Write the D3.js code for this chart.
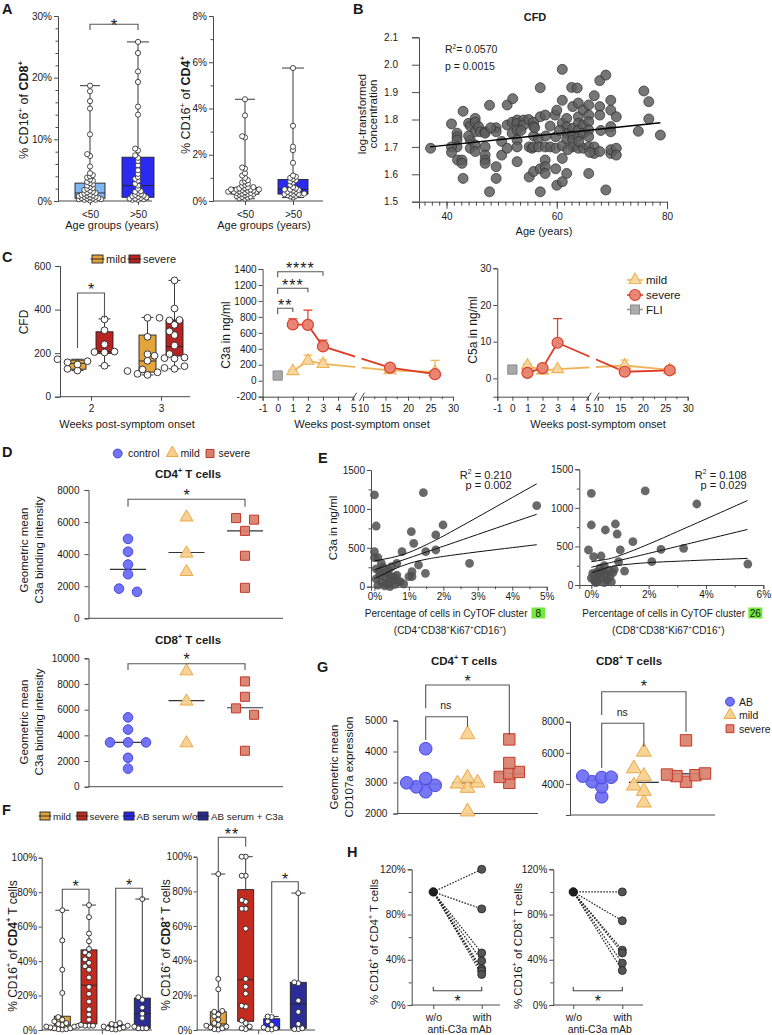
<!DOCTYPE html>
<html><head><meta charset="utf-8">
<script src="https://d3js.org/d3.v7.min.js"></script>
<style>html,body{margin:0;padding:0;background:#fff}svg{display:block}</style>
</head><body>
<svg id="fig" width="772" height="1035" xmlns="http://www.w3.org/2000/svg"></svg>
<script>
// ======================= DATA =======================
// Panel A
const aAgeGroups = ["<50", ">50"];
const aCD8Lt50 = [18.7,17.8,16.2,15.0,10.8,7.6,7.3,5.6,4.5,4.2,4.0,3.8,3.5,3.3,3.1,2.9,2.7,2.5,2.3,2.1,2.0,1.8,1.7,1.5,1.4,1.3,1.2,1.1,1.0,0.9,0.9,0.8,0.7,0.7,0.6,0.5,0.5,0.4,0.4,0.3,0.3,0.2,0.2,0.1];
const aCD8Gt50 = [25.8,24.0,21.0,19.3,15.3,14.0,8.5,8.2,7.4,7.0,6.5,5.8,5.0,4.4,3.9,3.6,3.3,2.8,2.5,2.0,1.6,1.5,1.3,1.1,1.0,0.9,0.8,0.7,0.6,0.5,0.4,0.4,0.3,0.2,0.2];
const aCD8Stats = [[0.1,0.45,1.3,2.9,18.7],[0.2,0.6,2.5,7.1,25.8]]; // min,q1,median,q3,max
const aCD4Lt50 = [4.4,3.7,2.8,2.75,1.45,1.4,1.2,1.1,1.0,0.9,0.85,0.8,0.75,0.7,0.65,0.6,0.6,0.55,0.55,0.5,0.5,0.5,0.5,0.48,0.45,0.45,0.42,0.4,0.4,0.4,0.38,0.35,0.35,0.32,0.3,0.3,0.28,0.25,0.22,0.2,0.18,0.15,0.12,0.1];
const aCD4Gt50 = [5.75,3.25,2.35,2.2,1.65,1.1,1.05,1.0,0.95,0.9,0.85,0.8,0.7,0.6,0.55,0.5,0.5,0.48,0.45,0.4,0.4,0.35,0.32,0.3,0.3,0.28,0.25,0.22,0.2,0.15];
const aCD4Stats = [[0.1,0.3,0.45,0.58,4.4],[0.15,0.3,0.5,0.93,5.75]];

// Panel B  [age, log CFD]
const bPoints = [[37.1,1.695],[40.9,1.784],[43.0,1.830],[41.9,1.750],[41.9,1.737],[41.9,1.725],[41.9,1.700],[40.9,1.700],[40.9,1.680],[42.0,1.652],
[42.8,1.652],[42.8,1.640],[43.0,1.585],[44.0,1.786],[44.3,1.776],[45.2,1.804],[45.2,1.790],[45.2,1.755],[44.3,1.725],[44.3,1.695],
[45.2,1.707],[45.2,1.683],[45.8,1.774],[46.1,1.755],[47.0,1.755],[47.0,1.750],[47.0,1.700],[47.0,1.670],[47.0,1.652],[47.0,1.640],
[47.8,1.852],[47.8,1.536],[49.0,1.770],[49.0,1.755],[49.0,1.628],[49.0,1.585],[50.0,1.720],[50.0,1.670],[51.0,1.853],[51.0,1.695],
[52.0,1.876],[51.0,1.780],[51.9,1.790],[52.8,1.798],[52.8,1.786],[51.9,1.750],[52.8,1.762],[52.8,1.725],[52.8,1.700],[52.8,1.646],
[54.0,1.798],[54.0,1.780],[54.9,1.800],[55.8,1.790],[55.8,1.774],[55.0,1.700],[55.5,1.695],[55.0,1.590],[55.8,1.740],[55.8,1.700],
[55.8,1.610],[56.7,1.730],[56.7,1.700],[57.0,1.620],[57.0,1.916],[57.0,1.810],[57.0,1.536],[57.9,1.816],[57.9,1.700],[57.9,1.652],
[57.9,1.628],[57.9,1.603],[58.8,1.776],[58.8,1.700],[59.7,1.816],[60.0,1.834],[59.8,1.737],[59.8,1.695],[59.8,1.620],[60.0,1.560],
[61.0,1.983],[61.0,1.870],[61.0,1.786],[61.0,1.704],[61.0,1.658],[61.0,1.573],[61.8,1.804],[61.8,1.774],[61.8,1.750],[61.8,1.730],
[61.8,1.603],[62.7,1.917],[62.9,1.847],[62.9,1.768],[62.9,1.743],[62.9,1.725],[62.9,1.700],[63.7,1.915],[63.9,1.860],[63.9,1.810],
[63.9,1.786],[63.9,1.762],[63.9,1.737],[63.9,1.695],[64.8,1.835],[64.8,1.780],[64.8,1.750],[64.8,1.695],[65.8,1.853],[65.8,1.816],
[65.8,1.792],[65.8,1.762],[65.8,1.737],[65.8,1.700],[65.8,1.603],[66.8,1.887],[66.8,1.700],[66.8,1.676],[67.8,1.847],[67.8,1.816],
[67.8,1.683],[67.8,1.942],[68.9,1.962],[68.9,1.543],[69.8,1.870],[69.8,1.834],[69.8,1.774],[69.8,1.755],[69.8,1.676],[69.8,1.690],
[70.8,1.810],[70.8,1.695],[70.8,1.670],[74.8,1.757],[75.8,1.904],[76.7,1.865],[76.7,1.802],[78.8,1.743],
[44.0,1.740],[48.0,1.770],[53.5,1.760],[56.0,1.770],[58.0,1.740],[60.5,1.760],[62.0,1.690],[64.0,1.720],[66.0,1.680],[68.0,1.760]];
const bFitAge = [37, 78.8];
const bFitCFD = [1.700, 1.788];

// Panel C (left) CFD by week
const cWeekCats = ["2", "3"];
const cCFDMildW2 = [172,163,158,148,128,120];
const cCFDSevW2 = [355,305,240,207,205,203,142];
const cCFDMildW3 = [362,275,195,165,125,118,112,105,100];
const cCFDSevW3 = [534,405,362,352,350,330,300,283,235,196,188,180,177,175,140,132,128];
const cStatsMild = [[120,126,153,168,172],[100,113,164,283,364]];
const cStatsSev = [[142,199,207,298,357],[128,187,230,352,534]];
// Panel C (middle/right) time course
const cWeeks = [1, 2, 3, 16, 26];
const c3aSevere = [705,700,430,165,82];
const c3aSevereUp = [775,885,510,185,100];
const c3aMild = [120,250,210,130,110];
const c3aMildUp = [135,320,260,150,255];
const c3aFLI = 65;
const c5aSevere = [1.5,2.8,9.7,1.8,2.2];
const c5aSevereUp = [1.7,3.2,16.3,2.0,2.4];
const c5aMild = [3.5,2.1,2.5,3.5,2.3];
const c5aMildUp = [4.0,3.3,2.7,5.0,2.5];
const c5aFLI = 2.4;

// Panel D
const dGroups = ["control","mild","severe"];
const dCD4Control = [4950,4150,3350,2750,1650,1850];
const dCD4Mild = [6300,4050,2900];
const dCD4Severe = [6250,6150,5450,3900,1900];
const dCD4Median = [3050,4100,5450];
const dCD8Control = [5400,4450,3450,3450,3450,2250,1400];
const dCD8Mild = [9000,6650,3400];
const dCD8Severe = [8200,7000,6100,5600,2800];
const dCD8Median = [3450,6700,6150];

// Panel E  [% cells in cluster, C3a ng/ml]
const eLeftPoints = [[1.42,1208],[4.71,1041],[1.07,707],[1.99,793],[1.78,665],[1.14,558],[0.80,450],[1.49,450],[1.78,472],[2.76,300],
[1.28,279],[0.65,300],[1.48,172],[1.09,193],[1.09,129],[1.00,129],[0.75,64],[0.85,35],[0.61,120],[0.00,1180],
[0.05,780],[0.00,450],[0.00,373],[0.10,373],[0.41,214],[0.50,257],[0.41,150],[0.56,86],[0.41,43],[0.20,60],
[0.30,120],[0.15,200],[0.25,250],[0.35,180],[0.70,60],[0.60,30],[0.05,100],[0.10,20],[0.30,10],[0.50,130],
[0.20,300],[0.45,0],[0.15,150],[0.65,150],[0.05,230],[0.35,40]];
const eLeftFitX = [0,0.5,1,1.5,2,3,4,4.71];
const eLeftFitMid = [217,293,369,445,520,672,824,931];
const eLeftFitLo = [102,212,298,352,389,448,502,540];
const eLeftFitHi = [332,374,440,538,651,896,1146,1322];
const eRightPoints = [[0,1189],[0,778],[-0.1,454],[1.88,1219],[3.68,1050],[0.49,713],[0.84,791],[0.9,661],[1.45,562],[1.01,454],
[2.43,463],[3.22,476],[2.11,302],[5.46,272],[0.95,302],[1.16,181],[0.08,367],[0.34,376],[0.05,150],[0.1,60],
[0.15,30],[0.2,170],[0.25,120],[0.3,220],[0.35,90],[0.4,180],[0.45,250],[0.5,140],[0.55,60],[0.6,190],
[0.65,110],[0.7,40],[0.75,160],[0.8,200],[0.2,40],[0.45,30],[0.0,90],[0.3,150]];
const eRightFitX = [0,0.5,1,2,3,4,5.45];
const eRightFitMid = [230,275,320,410,500,590,720];
const eRightFitLo = [158,219,257,290,308,324,345];
const eRightFitHi = [302,331,383,530,692,856,1095];

// Panel F
const fGroups = ["mild","severe","AB serum w/o","AB serum + C3a"];
const fCD4Mild = [69.5,52,35,21.5,7.5,6,5,4,3.5,3,2.5,2,2,1.5,1,1,0.5,0.5,0.3];
const fCD4Severe = [72.5,65.5,56,51.5,47,45,43.5,41,39,37,35,30.5,25,21,16.5,12,9,6,3,2.5,2.5,2.5];
const fCD4ABwo = [4,3.5,3,2.5,2,1.5,1,0.8,0.5,0.3];
const fCD4ABC3a = [76,19,17.5,13,9.5,7,2,1,1,1];
const fCD4Stats = [[0.3,0.8,3,8,69.5],[2.5,3.5,26,46.5,72.5],[0.3,0.8,1.8,3,4],[1,1,9.5,18.5,76]];
const fCD8Mild = [90,29.5,23.5,11,10.5,9,8,6,4,3,2.5,2,1.5,1,0.5,0.3];
const fCD8Severe = [100,100,89,89,75,74,70,70,58.5,29.5,25,21,14,13.5,5.5,4,2,1,0.5];
const fCD8ABwo = [7.8,7.5,5,3,1.5,1,0.5,0.3];
const fCD8ABC3a = [79,27.5,27,17,10.5,3.5,1,0.5,0.5];
const fCD8Stats = [[0.3,1,3.5,10.5,90],[0.5,5,29,81,100],[0.3,0.5,1.5,6.5,7.8],[0.5,1,15,27.5,79]];

// Panel G
const gGroups = ["AB","mild","severe"];
const gCD4AB = [4090,3130,2990,2910,2860,2700];
const gCD4Mild = [4550,3150,2990,2960,2820,2060];
const gCD4Severe = [4390,3630,3340,3290,3180,2990];
const gCD4Median = [2950,2990,3290];
const gCD8AB = [4500,4430,4410,4140,3810,3170];
const gCD8Mild = [6060,4990,4500,3880,3540,2790];
const gCD8Severe = [6800,4670,4600,4560,4500,4140];
const gCD8Median = [4240,4100,4650];

// Panel H
const hConditions = ["w/o","with"];
const hCD4With = [120,85,46,39,32,30,27];
const hCD8With = [100,74.5,48.5,46,37,30.5];
const hBaseline = 100;

// ======================= HELPERS =======================
const FONT = '"Liberation Sans", Arial, Helvetica, sans-serif';
const AX = "#4a4a4a";
const TXT = "#1a1a1a";
const svg = d3.select("#fig").attr("font-family", FONT);
svg.append("rect").attr("width",772).attr("height",1035).attr("fill","#fff");

function styleAxis(g, fs){
  g.attr("font-family", FONT);
  g.selectAll(".domain").attr("stroke", AX).attr("stroke-width",1);
  g.selectAll(".tick line").attr("stroke", AX);
  g.selectAll(".tick text").attr("font-size", fs||10).attr("fill", TXT).attr("font-family", FONT);
}
function yAxis(x, scale, ticks, fmt, minor, o={}){
  const g = svg.append("g").attr("transform",`translate(${x},0)`);
  g.call(d3.axisLeft(scale).tickValues(ticks).tickFormat(fmt).tickSizeOuter(0).tickSize(o.ts||4).tickPadding(o.tp||2));
  if (minor){ const m = g.append("g").call(d3.axisLeft(scale).tickValues(minor).tickFormat("").tickSize(o.ms||2.5).tickSizeOuter(0)); m.select(".domain").remove(); }
  styleAxis(g, o.fs||10);
  return g;
}
function xLin(y, scale, ticks, fmt, minor, o={}){
  const g = svg.append("g").attr("transform",`translate(0,${y})`);
  g.call(d3.axisBottom(scale).tickValues(ticks).tickFormat(fmt).tickSizeOuter(0).tickSize(o.ts||4).tickPadding(o.tp||3));
  if (minor){ const m = g.append("g").call(d3.axisBottom(scale).tickValues(minor).tickFormat("").tickSize(o.ms||2.5).tickSizeOuter(0)); m.select(".domain").remove(); }
  styleAxis(g, o.fs||10);
  return g;
}
function xCat(y, x0, x1, scale, o={}){
  svg.append("line").attr("x1",x0).attr("x2",x1).attr("y1",y).attr("y2",y).attr("stroke",AX);
  const g = svg.append("g").attr("transform",`translate(0,${y})`)
    .call(d3.axisBottom(scale).tickSize(o.ts===undefined?4:o.ts).tickPadding(o.tp||3).tickFormat(o.fmt||(d=>d)));
  g.select(".domain").remove();
  styleAxis(g, o.fs||10);
  return g;
}
function rich(x, y, segs, o={}){
  const fs = o.fs||11;
  const t = svg.append("text").attr("x",x).attr("y",y).attr("font-family",FONT).attr("font-size",fs)
    .attr("fill",o.fill||TXT).attr("text-anchor",o.anchor||"start");
  if (o.bold) t.attr("font-weight","bold");
  if (o.ls) t.attr("letter-spacing",o.ls);
  if (o.rotate) t.attr("transform",`rotate(-90,${x},${y})`);
  let shifted = false;
  segs.forEach(s=>{
    if (typeof s === "string") s = {t:s};
    const sp = t.append("tspan").text(s.t);
    if (s.sup){ sp.attr("font-size",fs*0.62).attr("dy",-fs*0.42); shifted = true; }
    else if (shifted){ sp.attr("dy",fs*0.42); shifted = false; }
    if (s.b) sp.attr("font-weight","bold");
  });
  return t;
}
const SUP = {t:"+", sup:true};
function label(t,x,y){ rich(x,y,[t],{fs:14.5,bold:true}); }
function bracket(x0,x1,y,l0,l1,txt,ty,o={}){
  svg.append("path").attr("d",`M${x0},${l0}V${y}H${x1}V${l1}`).attr("fill","none").attr("stroke",o.stroke||"#555").attr("stroke-width",1.1);
  if (txt) rich((x0+x1)/2, ty, [txt], {fs:o.fs||16, anchor:"middle", fill:TXT, ls:o.ls});
}
function box(cx, w, st, y, fill, capW){
  const g = svg.append("g");
  const ln = (x1,y1,x2,y2)=>g.append("line").attr("x1",x1).attr("y1",y1).attr("x2",x2).attr("y2",y2).attr("stroke","#222").attr("stroke-width",0.9);
  ln(cx,y(st[0]),cx,y(st[4]));
  ln(cx-capW/2,y(st[4]),cx+capW/2,y(st[4]));
  ln(cx-capW/2,y(st[0]),cx+capW/2,y(st[0]));
  g.append("rect").attr("x",cx-w/2).attr("y",y(st[3])).attr("width",w).attr("height",y(st[1])-y(st[3]))
    .attr("fill",fill).attr("stroke","#222").attr("stroke-width",0.9);
  ln(cx-w/2,y(st[2]),cx+w/2,y(st[2]));
}
function swarm(vals, y, cx, dist, step){
  const pts = vals.map(v=>({v, y:y(v)})).sort((a,b)=>b.y-a.y);
  const placed = [];
  pts.forEach(p=>{
    for (let k=0;k<200;k++){
      const off = k===0?0:(k%2?-1:1)*Math.ceil(k/2)*step;
      if (placed.every(q=>(q.dx-off)**2+(q.y-p.y)**2 >= dist*dist)){ p.dx = off; break; }
    }
    if (p.dx===undefined) p.dx = 0;
    placed.push(p);
  });
  return pts.map(p=>({x:cx+p.dx, y:p.y, v:p.v}));
}
function spread(vals, y, cx, thr, sp){
  const pts = vals.map(v=>({v, y:y(v)})).sort((a,b)=>a.y-b.y);
  const cl = [];
  pts.forEach(p=>{ const c = cl[cl.length-1]; if (c && p.y - c[c.length-1].y < thr) c.push(p); else cl.push([p]); });
  const out = [];
  cl.forEach(c=>c.forEach((p,i)=>out.push({x:cx+(i-(c.length-1)/2)*sp, y:p.y, v:p.v})));
  return out;
}
function dots(pts, r, o={}){
  svg.append("g").selectAll("circle").data(pts).join("circle")
    .attr("cx",d=>d.x).attr("cy",d=>d.y).attr("r",r)
    .attr("fill",o.fill||"#fff").attr("fill-opacity",o.fo===undefined?1:o.fo)
    .attr("stroke",o.stroke||"#222").attr("stroke-width",o.sw||0.8);
}
function marks(pts, type, size, fill, stroke, sw, fo){
  svg.append("g").selectAll("path").data(pts).join("path")
    .attr("transform",d=>`translate(${d.x},${d.y})`).attr("d",d3.symbol(type,size)())
    .attr("fill",fill).attr("fill-opacity",fo===undefined?1:fo).attr("stroke",stroke).attr("stroke-width",sw||1);
}
function legIcon(x,y,w,h,fill){
  svg.append("rect").attr("x",x).attr("y",y).attr("width",w).attr("height",h).attr("fill",fill).attr("stroke","#222").attr("stroke-width",0.9);
  svg.append("line").attr("x1",x-1.5).attr("x2",x+w+1.5).attr("y1",y+h/2).attr("y2",y+h/2).attr("stroke","#222").attr("stroke-width",0.9);
}

// colours
const LBLUE="#80b6f2", BLUE="#2a2af2", MILDBOX="#e4a43c", SEVBOX="#b82220";
const FMILD="#e2a43a", FSEV="#c42b1f", FABWO="#2626f0", FABC3="#2c2c98";
const CIRC_F="#6c6cf4", CIRC_S="#4747e2", TRI_F="#f7d08e", TRI_S="#eaa94a", SQ_F="#da7f6d", SQ_S="#c43a2b";
const SEV_L="#de3a26", MILD_L="#f1b357", SEV_MF="#e8826f", MILD_MF="#f8d6a0";

// ======================= PANEL A =======================
label("A", 2, 13.5);
{
  const y = d3.scaleLinear([0,30],[201,16]);
  yAxis(58, y, [0,10,20,30], d=>d+"%", d3.range(2,30,2).filter(d=>d%10), {fs:10, tp:2});
  const x = d3.scalePoint(aAgeGroups,[90,138]);
  xCat(201, 58, 152, x, {fs:10, tp:6});
  box(x("<50"), 30, aCD8Stats[0], y, LBLUE, 20);
  box(x(">50"), 32, aCD8Stats[1], y, BLUE, 22);
  dots(swarm(aCD8Lt50, y, x("<50"), 2.9, 2.8), 2.6);
  dots(swarm(aCD8Gt50, y, x(">50"), 2.9, 2.8), 2.6);
  bracket(90,138,24.3,30,30,"*",30.5,{fs:17});
  rich(28,110,["% CD16",SUP," of ",{t:"CD8",b:true},{t:"+",sup:true,b:true}],{fs:12.5,rotate:true,anchor:"middle"});
  rich(112,229,["Age groups (years)"],{fs:11,anchor:"middle"});
}
{
  const y = d3.scaleLinear([0,8],[201,16]);
  yAxis(213, y, [0,2,4,6,8], d=>d+"%", [1,3,5,7], {fs:10, tp:2});
  const x = d3.scalePoint(aAgeGroups,[245,293]);
  xCat(201, 213, 323, x, {fs:10, tp:6});
  box(x("<50"), 28, aCD4Stats[0], y, LBLUE, 20);
  box(x(">50"), 30, aCD4Stats[1], y, BLUE, 22);
  dots(swarm(aCD4Lt50, y, x("<50"), 2.9, 2.8), 2.6);
  dots(swarm(aCD4Gt50, y, x(">50"), 2.9, 2.8), 2.6);
  rich(190,105,["% CD16",SUP," of ",{t:"CD4",b:true},{t:"+",sup:true,b:true}],{fs:12.5,rotate:true,anchor:"middle"});
  rich(264,229,["Age groups (years)"],{fs:11,anchor:"middle"});
}

// ======================= PANEL B =======================
label("B", 353, 13.5);
{
  const x = d3.scaleLinear([35,80],[419,667]);
  const y = d3.scaleLinear([1.5,2.1],[201.7,37.3]);
  yAxis(419, y, d3.range(1.5,2.101,0.1), d3.format(".1f"), null, {fs:10, ts:7, tp:14});
  xLin(201.7, x, [40,60,80], d=>d, d3.range(36,80.01,4/3), {fs:10, ts:7, tp:4, ms:4});
  svg.append("g").selectAll("circle").data(bPoints).join("circle")
    .attr("cx",d=>x(d[0])).attr("cy",d=>y(d[1])).attr("r",5)
    .attr("fill","#5e5e5e").attr("fill-opacity",0.85).attr("stroke","#2e2e2e").attr("stroke-width",0.7);
  svg.append("line").attr("x1",x(bFitAge[0])).attr("y1",y(bFitCFD[0])).attr("x2",x(bFitAge[1])).attr("y2",y(bFitCFD[1]))
    .attr("stroke","#000").attr("stroke-width",1.4);
  rich(535,21,["CFD"],{fs:11,bold:true,anchor:"middle"});
  rich(445,53,["R",{t:"2",sup:true},"= 0.0570"],{fs:10.5});
  rich(445,69.5,["p = 0.0015"],{fs:10.5});
  rich(365.5,114,["log-transformed"],{fs:11.5,rotate:true,anchor:"middle"});
  rich(376.5,114,["concentration"],{fs:11.5,rotate:true,anchor:"middle"});
  rich(544,234.5,["Age (years)"],{fs:11,anchor:"middle"});
}

// ======================= PANEL C =======================
label("C", 2, 261.5);
{
  legIcon(92,255,11,8,MILDBOX); rich(106,263,["mild"],{fs:11});
  legIcon(129,255,11,8,SEVBOX); rich(143,263,["severe"],{fs:11});
  const y = d3.scaleLinear([0,600],[396.7,266]);
  yAxis(60, y, [0,200,400,600], d=>d, null, {fs:10, ts:5, tp:4});
  const x = d3.scalePoint(cWeekCats,[91,161]);
  xCat(396.7, 60, 190, x, {fs:10, tp:4});
  const off = 13.5;
  box(x("2")-off,17,cStatsMild[0],y,MILDBOX,12); box(x("2")+off,17,cStatsSev[0],y,SEVBOX,12);
  box(x("3")-off,17,cStatsMild[1],y,MILDBOX,12); box(x("3")+off,17,cStatsSev[1],y,SEVBOX,12);
  dots(swarm(cCFDMildW2,y,x("2")-off,6,5),3.4,{sw:0.9});
  dots(swarm(cCFDSevW2,y,x("2")+off,6,5),3.4,{sw:0.9});
  dots(swarm(cCFDMildW3,y,x("3")-off,6,5),3.4,{sw:0.9});
  dots(swarm(cCFDSevW3,y,x("3")+off,6,5),3.4,{sw:0.9});
  bracket(x("2")-off,x("2")+off,293,348,318,"*",295);
  rich(28,322,["CFD"],{fs:12,rotate:true,anchor:"middle"});
  rich(127,428,["Weeks post-symptom onset"],{fs:11,anchor:"middle"});
}
function timePanel(o){
  const {y, xa, xb, yb, gap, id, sev, sevUp, mild, mildUp, fli} = o;
  const px = w => w<=5 ? xa(w) : xb(w);
  yAxis(xa.range()[0], y, o.yTicks, d=>d, null, {fs:10, ts:4, tp:2});
  xLin(yb, xa, d3.range(-1,6), d=>d, null, {fs:10, tp:4});
  xLin(yb, xb, [10,15,20,25,30], d=>d, [12.5,17.5,22.5,27.5], {fs:10, tp:4});
  [xa.range()[1]+1, xb.range()[0]-1].forEach(bx=>svg.append("line").attr("x1",bx-2.5).attr("x2",bx+2.5)
    .attr("y1",yb+4).attr("y2",yb-4).attr("stroke",AX));
  const cp = svg.append("clipPath").attr("id",id);
  cp.append("rect").attr("x",0).attr("y",0).attr("width",gap[0]).attr("height",1035);
  cp.append("rect").attr("x",gap[1]).attr("y",0).attr("width",772-gap[1]).attr("height",1035);
  const line = d3.line().x((d,i)=>px(cWeeks[i])).y(d=>y(d));
  svg.append("path").attr("d",line(mild)).attr("fill","none").attr("stroke",MILD_L).attr("stroke-width",1.8).attr("clip-path",`url(#${id})`);
  svg.append("path").attr("d",line(sev)).attr("fill","none").attr("stroke",SEV_L).attr("stroke-width",1.8).attr("clip-path",`url(#${id})`);
  const err = (vals, ups, col)=>vals.forEach((v,i)=>{
    const cx = px(cWeeks[i]);
    svg.append("path").attr("d",`M${cx},${y(v)}V${y(ups[i])}M${cx-4.5},${y(ups[i])}H${cx+4.5}`).attr("fill","none").attr("stroke",col).attr("stroke-width",1.2);
  });
  err(mild, mildUp, MILD_L); err(sev, sevUp, SEV_L);
  marks(mild.map((v,i)=>({x:px(cWeeks[i]),y:y(v)})), d3.symbolTriangle, 62, MILD_MF, "#efb252", 1.1, 0.95);
  marks(sev.map((v,i)=>({x:px(cWeeks[i]),y:y(v)})), d3.symbolCircle, 95, SEV_MF, "#d8402d", 1.2, 0.95);
  marks([{x:px(0),y:y(fli)}], d3.symbolSquare, 85, "#a9a9a9", "#8a8a8a", 1);
  return px;
}
{
  const y = d3.scaleLinear([-200,1400],[396.7,269]);
  const xa = d3.scaleLinear([-1,5],[262.6,353.2]);
  const xb = d3.scaleLinear([10,30],[363,453]);
  const px = timePanel({y, xa, xb, yb:396.7, gap:[355,361.5], id:"gapC3a", sev:c3aSevere, sevUp:c3aSevereUp, mild:c3aMild, mildUp:c3aMildUp, fli:c3aFLI, yTicks:d3.range(-200,1401,200)});
  bracket(px(0),px(1),308.3,314.3,312,"**",310.8,{ls:1});
  bracket(px(0),px(2),288.3,294,292.3,"***",290.8,{ls:1});
  bracket(px(0),px(3),271.7,277.3,275.7,"****",274,{ls:1});
  rich(230,335,["C3a in ng/ml"],{fs:12,rotate:true,anchor:"middle"});
  rich(362,428,["Weeks post-symptom onset"],{fs:11,anchor:"middle"});
}
{
  const y = d3.scaleLinear([-5,30],[396.7,268.3]);
  const xa = d3.scaleLinear([-1,5],[497.3,587.7]);
  const xb = d3.scaleLinear([10,30],[597.7,687.7]);
  timePanel({y, xa, xb, yb:396.7, gap:[589.5,596], id:"gapC5a", sev:c5aSevere, sevUp:c5aSevereUp, mild:c5aMild, mildUp:c5aMildUp, fli:c5aFLI, yTicks:[0,10,20,30]});
  rich(477,330,["C5a in ng/ml"],{fs:12,rotate:true,anchor:"middle"});
  rich(598,428,["Weeks post-symptom onset"],{fs:11,anchor:"middle"});
  // legend
  const lg = [["mild",280,d3.symbolTriangle,62,MILD_MF,"#efb252",MILD_L],["severe",295,d3.symbolCircle,95,SEV_MF,"#d8402d",SEV_L],["FLI",309.5,d3.symbolSquare,80,"#a9a9a9","#8a8a8a","#9a9a9a"]];
  lg.forEach(l=>{
    svg.append("line").attr("x1",627).attr("x2",643).attr("y1",l[1]).attr("y2",l[1]).attr("stroke",l[6]).attr("stroke-width",1.6);
    marks([{x:635,y:l[1]}], l[2], l[3], l[4], l[5], 1.1, 0.95);
    rich(646,l[1]+4,[l[0]],{fs:11.5});
  });
}

// ======================= PANEL D =======================
label("D", 2, 457);
{
  marks([{x:117.7,y:453.5}], d3.symbolCircle, 62, CIRC_F, CIRC_S, 1, 0.95); rich(128,457,["control"],{fs:10.5});
  marks([{x:172.3,y:453}], d3.symbolTriangle, 62, TRI_F, TRI_S, 1); rich(180.5,457,["mild"],{fs:10.5});
  marks([{x:210,y:453.5}], d3.symbolSquare, 64, SQ_F, SQ_S, 1); rich(218.5,457,["severe"],{fs:10.5});
  const x = d3.scalePoint(dGroups,[128,245]);
  const draw = (y, ctrl, mild, sev, med, yb)=>{
    yAxis(88.5, y, y.ticks(4).filter(t=>t%2000===0), d=>d, null, {fs:10, ts:4, tp:5});
    svg.append("line").attr("x1",88.5).attr("x2",283).attr("y1",yb).attr("y2",yb).attr("stroke",AX);
    med.forEach((m,i)=>{ const cx = x(dGroups[i]); svg.append("line").attr("x1",cx-18).attr("x2",cx+18).attr("y1",y(m)).attr("y2",y(m)).attr("stroke","#333").attr("stroke-width",1.1); });
    marks(spread(ctrl,y,x("control"),9.5,18), d3.symbolCircle, 72, CIRC_F, CIRC_S, 1, 0.95);
    marks(spread(mild,y,x("mild"),11,18), d3.symbolTriangle, 72, TRI_F, TRI_S, 1, 0.95);
    marks(spread(sev,y,x("severe"),10,18), d3.symbolSquare, 82, SQ_F, SQ_S, 1, 0.95);
  };
  const y4 = d3.scaleLinear([0,8000],[618.3,490]);
  draw(y4, dCD4Control, dCD4Mild, dCD4Severe, dCD4Median, 618.3);
  bracket(128,245,499.3,506.7,506.7,"*",500.5);
  rich(188,478,["CD4",SUP," T cells"],{fs:11.5,bold:true,anchor:"middle"});
  rich(28,550,["Geometric mean"],{fs:11.5,rotate:true,anchor:"middle"});
  rich(43,550,["C3a binding intensity"],{fs:11.5,rotate:true,anchor:"middle"});
  const y8 = d3.scaleLinear([0,10000],[786.7,658.3]);
  draw(y8, dCD8Control, dCD8Mild, dCD8Severe, dCD8Median, 786.7);
  bracket(128,245,663.7,670,670,"*",665);
  rich(188,644,["CD8",SUP," T cells"],{fs:11.5,bold:true,anchor:"middle"});
  rich(28,722,["Geometric mean"],{fs:11.5,rotate:true,anchor:"middle"});
  rich(43,722,["C3a binding intensity"],{fs:11.5,rotate:true,anchor:"middle"});
}

// ======================= PANEL E =======================
label("E", 318, 463);
function scatterE(o){
  const {x, y, ax, pts, fx, mid, lo, hi} = o;
  yAxis(ax, y, [0,500,1000,1500], d=>d, [250,750,1250], {fs:10, ts:4, tp:2});
  xLin(y.range()[0], x, o.xt, d=>d+"%", o.xm, {fs:10, ts:4, tp:2});
  svg.append("g").selectAll("circle").data(pts).join("circle")
    .attr("cx",d=>x(d[0])).attr("cy",d=>y(d[1])).attr("r",4.4)
    .attr("fill","#4f4f4f").attr("fill-opacity",0.85).attr("stroke","none");
  [mid,lo,hi].forEach(arr=>{
    const l = d3.line().x((d,i)=>x(fx[i])).y(d=>y(d)).curve(d3.curveNatural);
    svg.append("path").attr("d",l(arr)).attr("fill","none").attr("stroke","#111").attr("stroke-width",1);
  });
}
{
  const x = d3.scaleLinear([-0.1,5],[371,546.7]);
  const y = d3.scaleLinear([0,1500],[586.7,470]);
  scatterE({x,y,ax:371,pts:eLeftPoints,fx:eLeftFitX,mid:eLeftFitMid,lo:eLeftFitLo,hi:eLeftFitHi,xt:[0,1,2,3,4,5],xm:[0.5,1.5,2.5,3.5,4.5]});
  rich(511.7,478.5,["R",{t:"2",sup:true}," = 0.210"],{fs:11,anchor:"end"});
  rich(511.7,489,["p = 0.002"],{fs:11,anchor:"end"});
  rich(336.5,528,["C3a in ng/ml"],{fs:11.5,rotate:true,anchor:"middle"});
  rich(527.5,617,["Percentage of cells in CyTOF cluster"],{fs:10,anchor:"end"});
  svg.append("rect").attr("x",531.5).attr("y",607.5).attr("width",13.5).attr("height",11).attr("fill","#72ea3c");
  rich(538.2,616.5,["8"],{fs:10,anchor:"middle"});
  rich(450,633.5,["(CD4",SUP,"CD38",SUP,"Ki67",SUP,"CD16",SUP,")"],{fs:10,anchor:"middle"});
}
{
  const x = d3.scaleLinear([-0.42,6],[579.3,763.3]);
  const y = d3.scaleLinear([0,1500],[585,469.3]);
  scatterE({x,y,ax:579.3,pts:eRightPoints,fx:eRightFitX,mid:eRightFitMid,lo:eRightFitLo,hi:eRightFitHi,xt:[0,2,4,6],xm:[1,3,5]});
  rich(746.7,478.5,["R",{t:"2",sup:true}," = 0.108"],{fs:11,anchor:"end"});
  rich(746.7,489,["p = 0.029"],{fs:11,anchor:"end"});
  rich(745,617,["Percentage of cells in CyTOF cluster"],{fs:10,anchor:"end"});
  svg.append("rect").attr("x",748.3).attr("y",607.5).attr("width",14).attr("height",11).attr("fill","#72ea3c");
  rich(755.3,616.5,["26"],{fs:10,anchor:"middle"});
  rich(668.3,633.5,["(CD8",SUP,"CD38",SUP,"Ki67",SUP,"CD16",SUP,")"],{fs:10,anchor:"middle"});
}

// ======================= PANEL G =======================
label("G", 317, 671.5);
function gChart(o){
  const {y, ax, x1, yb, ab, mild, sev, med, xs} = o;
  const x = d3.scalePoint(gGroups, xs);
  yAxis(ax, y, o.ticks, d=>d, null, {fs:10, ts:4, tp:o.tp||2});
  svg.append("line").attr("x1",ax).attr("x2",x1).attr("y1",yb).attr("y2",yb).attr("stroke",AX).attr("stroke-width",1.2);
  med.forEach((m,i)=>{ const cx = x(gGroups[i]); svg.append("line").attr("x1",cx-15).attr("x2",cx+15).attr("y1",y(m)).attr("y2",y(m)).attr("stroke","#333").attr("stroke-width",1.3); });
  marks(swarm(ab,y,x("AB"),9,9.5), d3.symbolCircle, 125, CIRC_F, CIRC_S, 1, 0.92);
  marks(swarm(mild,y,x("mild"),9,10), d3.symbolTriangle, 95, TRI_F, TRI_S, 1, 0.92);
  marks(swarm(sev,y,x("severe"),9,9.5), d3.symbolSquare, 130, SQ_F, SQ_S, 1, 0.92);
  return x;
}
{
  const y = d3.scaleLinear([2000,5000],[813.5,720.5]);
  const x = gChart({y, ax:397.3, x1:538, yb:813.5, ab:gCD4AB, mild:gCD4Mild, sev:gCD4Severe, med:gCD4Median, xs:[425.7,509.3], ticks:[2000,3000,4000,5000], tp:6});
  bracket(x("AB"),x("severe"),685,708.3,735,"*",686.7);
  bracket(x("AB"),x("mild"),716.7,740,726.7,"",0);
  rich(445.7,709,["ns"],{fs:10.5,anchor:"middle"});
  rich(464,664.5,["CD4",SUP," T cells"],{fs:11.5,bold:true,anchor:"middle"});
  rich(338,767,["Geometric mean"],{fs:11.5,rotate:true,anchor:"middle"});
  rich(353,767,["CD107a expression"],{fs:11.5,rotate:true,anchor:"middle"});
}
{
  const y = d3.scaleLinear([2000,8000],[815,721.7]);
  const x = gChart({y, ax:570, x1:715, yb:815, ab:gCD8AB, mild:gCD8Mild, sev:gCD8Severe, med:gCD8Median, xs:[601.7,686], ticks:[4000,6000,8000]});
  bracket(x("AB"),x("severe"),691.7,715,731.7,"*",692.3);
  bracket(x("AB"),x("mild"),723.3,768,746.7,"",0);
  rich(622.3,716,["ns"],{fs:10.5,anchor:"middle"});
  rich(629,664.5,["CD8",SUP," T cells"],{fs:11.5,bold:true,anchor:"middle"});
  marks([{x:730,y:701.7}], d3.symbolCircle, 62, CIRC_F, CIRC_S, 1, 0.95); rich(739,705.5,["AB"],{fs:10.5});
  marks([{x:730,y:715}], d3.symbolTriangle, 62, TRI_F, TRI_S, 1, 0.95); rich(739,719,["mild"],{fs:10.5});
  marks([{x:730,y:728.7}], d3.symbolSquare, 62, SQ_F, SQ_S, 1, 0.95); rich(739,732.5,["severe"],{fs:10.5});
}

// ======================= PANEL F =======================
label("F", 2, 815);
{
  legIcon(40,812,10,8,FMILD); rich(53,820,["mild"],{fs:9.8});
  legIcon(77,812,10,8,FSEV); rich(89.5,820,["severe"],{fs:9.8});
  legIcon(124,812,10,8,FABWO); rich(136.5,820,["AB serum w/o"],{fs:9.8});
  legIcon(198,812,10,8,FABC3); rich(211,820,["AB serum + C3a"],{fs:9.8});
  const fills = [FMILD,FSEV,FABWO,FABC3];
  const drawF = (ax, xs, x1, stats, sets, y)=>{
    yAxis(ax, y, [0,20,40,60,80,100], d=>d+"%", null, {fs:10, ts:3, tp:1.5});
    svg.append("line").attr("x1",ax).attr("x2",x1).attr("y1",1030).attr("y2",1030).attr("stroke",AX);
    svg.append("line").attr("x1",(xs[1]+xs[2])/2).attr("x2",(xs[1]+xs[2])/2).attr("y1",1030).attr("y2",1034).attr("stroke",AX);
    stats.forEach((st,i)=>box(xs[i],16,st,y,fills[i],14));
    sets.forEach((s,i)=>dots(swarm(s,y,xs[i],4.0,4.0),2.5,{sw:0.9}));
  };
  const y1 = d3.scaleLinear([0,100],[1030,857.7]);
  const xs1 = [62.3,89,115.7,142.3];
  drawF(41.7, xs1, 152, fCD4Stats, [fCD4Mild,fCD4Severe,fCD4ABwo,fCD4ABC3a], y1);
  bracket(xs1[0],xs1[1],889.3,908.3,903.3,"*",892.4);
  bracket(xs1[2],xs1[3],888.3,1021.7,898.3,"*",891.4);
  rich(16.5,946,["% CD16",SUP," of ",{t:"CD4",b:true},{t:"+",sup:true,b:true}," T cells"],{fs:12,rotate:true,anchor:"middle"});
  const y2 = d3.scaleLinear([0,100],[1030,856.7]);
  const xs2 = [218.3,245.7,271.7,298.3];
  drawF(196.7, xs2, 315, fCD8Stats, [fCD8Mild,fCD8Severe,fCD8ABwo,fCD8ABC3a], y2);
  bracket(xs2[0],xs2[1],837.3,871.7,846.7,"**",840,{ls:1});
  bracket(xs2[2],xs2[3],881.7,1013,890,"*",884.5);
  rich(170,945,["% CD16",SUP," of ",{t:"CD8",b:true},{t:"+",sup:true,b:true}," T cells"],{fs:12,rotate:true,anchor:"middle"});
}

// ======================= PANEL H =======================
label("H", 347, 857);
function hChart(ax, xs, x1, vals, lx, ly, cd){
  const y = d3.scaleLinear([0,120],[1005,869.3]);
  yAxis(ax, y, [0,40,80,120], d=>d+"%", [20,60,100], {fs:10, ts:4, tp:2, ms:3});
  const x = d3.scalePoint(hConditions, xs);
  xCat(1005, ax, x1, x, {fs:10.5, ts:4, tp:5});
  vals.forEach(v=>svg.append("line").attr("x1",x("w/o")).attr("y1",y(hBaseline)).attr("x2",x("with")).attr("y2",y(v))
    .attr("stroke","#222").attr("stroke-width",1.2).attr("stroke-dasharray","1.6,1.4"));
  dots(vals.map(v=>({x:x("with"),y:y(v)})),4,{fill:"#555",stroke:"#2a2a2a",sw:0.9});
  dots([{x:x("w/o"),y:y(hBaseline)}],4.2,{fill:"#1e1e1e",stroke:"#111",sw:0.9});
  svg.append("path").attr("d",`M${x("w/o")},986.7V990.7H${x("with")}V986.7`).attr("fill","none").attr("stroke","#444").attr("stroke-width",1.1);
  rich((xs[0]+xs[1])/2, 1007.4, ["*"], {fs:16, anchor:"middle"});
  rich((xs[0]+xs[1])/2+2, 1033, ["anti-C3a mAb"], {fs:10.5, anchor:"middle"});
  rich(lx, ly, ["% CD16",SUP," of CD",cd,SUP," T cells"], {fs:11.5, rotate:true, anchor:"middle"});
}
hChart(411.7, [433.3,481.7], 500, hCD4With, 378, 942, "4");
hChart(553.3, [573.3,622.3], 643, hCD8With, 521.7, 946, "8");
</script>
</body></html>
